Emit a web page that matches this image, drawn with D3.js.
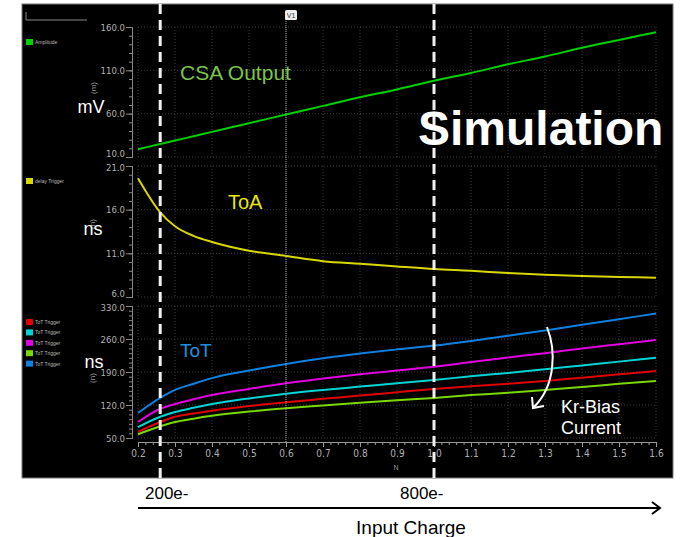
<!DOCTYPE html>
<html>
  <head>
    <script src="https://d3js.org/d3.v7.min.js"></script>
    <style>
      body { margin: 0; background: #fff; }
      svg text { font-family: "Liberation Sans", Arial, sans-serif; }
      .tick text { font-family: "Liberation Sans Narrow", "DejaVu Sans Condensed", sans-serif; fill: #b0b0b0; }
    </style>
  </head>
  <body>
    <div id="chart"></div>
    <script>
      // x values (N) the simulation was sampled at
      const nVals = [0.2, 0.26, 0.3, 0.35, 0.4, 0.5, 0.6, 0.7, 0.8, 0.9, 1.0, 1.1, 1.2, 1.3, 1.4, 1.5, 1.6];
      // CSA output amplitude (mV)
      const amplitude = [19, 25, 29, 34, 39, 49, 59, 69, 79, 88, 98, 107, 117, 126, 136, 145, 154];
      // ToA delay trigger (ns)
      const delayTrigger = [19.6, 15.7, 14.1, 13.0, 12.3, 11.3, 10.7, 10.1, 9.8, 9.5, 9.2, 9.0, 8.75, 8.55, 8.4, 8.3, 8.2];
      // ToT triggers (ns), one per bias current
      const totRed = [63, 84, 95, 102, 108, 118, 126, 133, 140, 147, 154, 160, 165, 171, 178, 185, 192];
      const totCyan = [73, 95, 105, 114, 122, 134, 144, 152, 159, 166, 173, 181, 188, 196, 204, 212, 220];
      const totMagenta = [84, 112, 122, 132, 141, 154, 166, 176, 185, 193, 201, 211, 221, 230, 240, 249, 258];
      const totGreen = [58, 75, 84, 91, 97, 106, 113, 119, 125, 130, 135, 141, 146, 152, 158, 165, 171];
      const totBlue = [103, 135, 152, 165, 177, 193, 207, 219, 229, 238, 246, 256, 267, 278, 290, 302, 314];

      // axis ticks
      const xTicks = [0.2, 0.3, 0.4, 0.5, 0.6, 0.7, 0.8, 0.9, 1.0, 1.1, 1.2, 1.3, 1.4, 1.5, 1.6];
      const mvTicks = [10, 60, 110, 160];
      const toaTicks = [6, 11, 16, 21];
      const totTicks = [50, 120, 190, 260, 330];

      // marker lines
      const cursorX = [0.26, 1.0];
      const markerV1 = 0.6;

      const width = 680, height = 537;
      const svg = d3.select("#chart").append("svg")
        .attr("width", width).attr("height", height);

      // black simulator window
      svg.append("rect").attr("x", 22).attr("y", 4).attr("width", 651).attr("height", 474)
        .attr("fill", "#000").attr("stroke", "#777").attr("stroke-width", 1);
      svg.append("path").attr("d", "M26,12V20H87").attr("fill", "none").attr("stroke", "#888");

      const x = d3.scaleLinear().domain([0.2, 1.6]).range([138, 656]);

      const panels = [
        { name: "mV", y: d3.scaleLinear().domain([10, 160]).range([157, 27]), ticks: mvTicks, minor: 10,
          series: [{ values: amplitude, color: "#00d000", label: "Amplitude" }], legendY: 39 },
        { name: "ns", y: d3.scaleLinear().domain([6, 21]).range([297, 166]), ticks: toaTicks, minor: 1,
          series: [{ values: delayTrigger, color: "#d8d800", label: "delay Trigger" }], legendY: 178 },
        { name: "ns", y: d3.scaleLinear().domain([50, 330]).range([438, 306]), ticks: totTicks, minor: 10,
          series: [
            { values: totRed, color: "#e00000", label: "ToT Trigger" },
            { values: totCyan, color: "#00d4d4", label: "ToT Trigger" },
            { values: totMagenta, color: "#e000e0", label: "ToT Trigger" },
            { values: totGreen, color: "#78d800", label: "ToT Trigger" },
            { values: totBlue, color: "#1080e0", label: "ToT Trigger" }
          ], legendY: 319 }
      ];

      const unitLabels = [
        { text: "mV", x: 91, y: 113, unit: "(m)", ux: 96, uy: 88 },
        { text: "ns", x: 93, y: 235, unit: "(n)", ux: 95, uy: 224 },
        { text: "ns", x: 94, y: 368, unit: "(n)", ux: 95, uy: 378 }
      ];

      panels.forEach((p, i) => {
        const [y1, y0] = p.y.range();
        // grid
        const grid = svg.append("g").attr("stroke", "#3a3a3a").attr("stroke-dasharray", "1,2");
        grid.selectAll(".v").data(xTicks).join("line")
          .attr("x1", d => x(d)).attr("x2", d => x(d)).attr("y1", y0).attr("y2", y1);
        grid.selectAll(".h").data(p.ticks).join("line")
          .attr("x1", x.range()[0]).attr("x2", x.range()[1]).attr("y1", d => p.y(d)).attr("y2", d => p.y(d));

        // minor ticks
        const dom = p.y.domain();
        svg.append("g").attr("transform", "translate(132,0)")
          .call(d3.axisLeft(p.y).tickValues(d3.range(dom[0], dom[1] + 0.001, p.minor)).tickSize(3).tickFormat(""))
          .call(g => g.selectAll("line,path").attr("stroke", "#888"));
        // major ticks
        const last = p.ticks.length - 1;
        svg.append("g").attr("transform", "translate(132,0)")
          .call(d3.axisLeft(p.y).tickValues(p.ticks).tickSize(6).tickPadding(1).tickFormat(d3.format(".1f")))
          .call(g => g.select(".domain").attr("stroke", "#888"))
          .call(g => g.selectAll(".tick line").attr("stroke", "#888"))
          .call(g => g.selectAll(".tick text").attr("font-size", 9.5)
            .attr("dy", (d, k) => k === 0 && i < 2 ? "-0.05em" : (k === last && i > 0 ? "0.5em" : "0.32em")));

        // unit labels
        const u = unitLabels[i];
        svg.append("text").attr("transform", `translate(${u.ux},${u.uy}) rotate(-90)`)
          .attr("text-anchor", "middle").attr("font-size", 8).attr("fill", "#999").text(u.unit);
        svg.append("text").attr("x", u.x).attr("y", u.y).attr("text-anchor", "middle")
          .attr("font-size", 18).attr("fill", "#fff").text(u.text);

        // legend
        p.series.forEach((s, j) => {
          const ly = p.legendY + j * 10.4;
          svg.append("rect").attr("x", 26).attr("y", ly).attr("width", 7).attr("height", 6).attr("fill", s.color);
          svg.append("text").attr("x", 35).attr("y", ly + 5).attr("font-size", 5).attr("fill", "#bbb").text(s.label);
        });

        // lines
        const line = d3.line().x((d, k) => x(nVals[k])).y(d => p.y(d)).curve(d3.curveMonotoneX);
        svg.append("g").selectAll("path").data(p.series).join("path")
          .attr("d", s => line(s.values))
          .attr("fill", "none").attr("stroke", d => d.color).attr("stroke-width", 2);
      });

      // x axis
      const xAxisY = 442;
      svg.append("g").attr("transform", `translate(0,${xAxisY})`)
        .call(d3.axisBottom(x).tickValues(d3.range(0.2, 1.6001, 0.02)).tickSize(3).tickFormat(""))
        .call(g => g.selectAll("line,path").attr("stroke", "#999"));
      svg.append("g").attr("transform", `translate(0,${xAxisY})`)
        .call(d3.axisBottom(x).tickValues(xTicks).tickSize(5).tickPadding(3).tickFormat(d3.format(".1f")))
        .call(g => g.select(".domain").remove())
        .call(g => g.selectAll(".tick line").attr("stroke", "#999"))
        .call(g => g.selectAll(".tick text").attr("font-size", 10));
      svg.append("text").attr("x", 396).attr("y", 470).attr("text-anchor", "middle")
        .attr("font-size", 7).attr("fill", "#999").text("N");

      // V1 marker
      svg.append("line").attr("x1", x(markerV1)).attr("x2", x(markerV1)).attr("y1", 19).attr("y2", xAxisY)
        .attr("stroke", "#aaa").attr("stroke-width", 1).attr("stroke-dasharray", "1,1");
      svg.append("rect").attr("x", x(markerV1) - 1).attr("y", 10).attr("width", 12).attr("height", 10)
        .attr("rx", 1.5).attr("fill", "#eee");
      svg.append("text").attr("x", x(markerV1) + 5).attr("y", 18).attr("text-anchor", "middle")
        .attr("font-size", 7).attr("fill", "#333").text("V1");

      // cursor lines
      svg.selectAll(".cursor").data(cursorX).join("line")
        .attr("x1", d => x(d)).attr("x2", d => x(d)).attr("y1", 4).attr("y2", 478)
        .attr("stroke", "#f0f0f0").attr("stroke-width", 3).attr("stroke-dasharray", "10,6");

      // annotations
      svg.append("text").attr("x", 180).attr("y", 80).attr("font-size", 21).attr("fill", "#7cc34a").text("CSA Output");
      svg.append("text").attr("x", 228).attr("y", 209).attr("font-size", 20).attr("fill", "#e8e800").text("ToA");
      svg.append("text").attr("x", 180).attr("y", 357).attr("font-size", 19).attr("fill", "#1a90dc").text("ToT");
      svg.append("text").attr("x", 418).attr("y", 145).attr("font-size", 48).attr("font-weight", "bold")
        .attr("fill", "#fff").text("Simulation");
      svg.append("text").attr("x", 561).attr("y", 413).attr("font-size", 18).attr("fill", "#fff").text("Kr-Bias");
      svg.append("text").attr("x", 561).attr("y", 434).attr("font-size", 18).attr("fill", "#fff").text("Current");
      svg.append("path").attr("d", "M547,327 C556,350 556,385 534,407 M532,397 L533,408 L544,406")
        .attr("fill", "none").attr("stroke", "#fff").attr("stroke-width", 2);

      // input charge axis below
      svg.append("text").attr("x", 145).attr("y", 499).attr("font-size", 17).attr("fill", "#000").text("200e-");
      svg.append("text").attr("x", 400).attr("y", 499).attr("font-size", 17).attr("fill", "#000").text("800e-");
      svg.append("path").attr("d", "M138,508H660 M652,502L660,508L652,514")
        .attr("fill", "none").attr("stroke", "#000").attr("stroke-width", 2);
      svg.append("text").attr("x", 411).attr("y", 534).attr("text-anchor", "middle")
        .attr("font-size", 19).attr("fill", "#000").text("Input Charge");
    </script>
  </body>
</html>
